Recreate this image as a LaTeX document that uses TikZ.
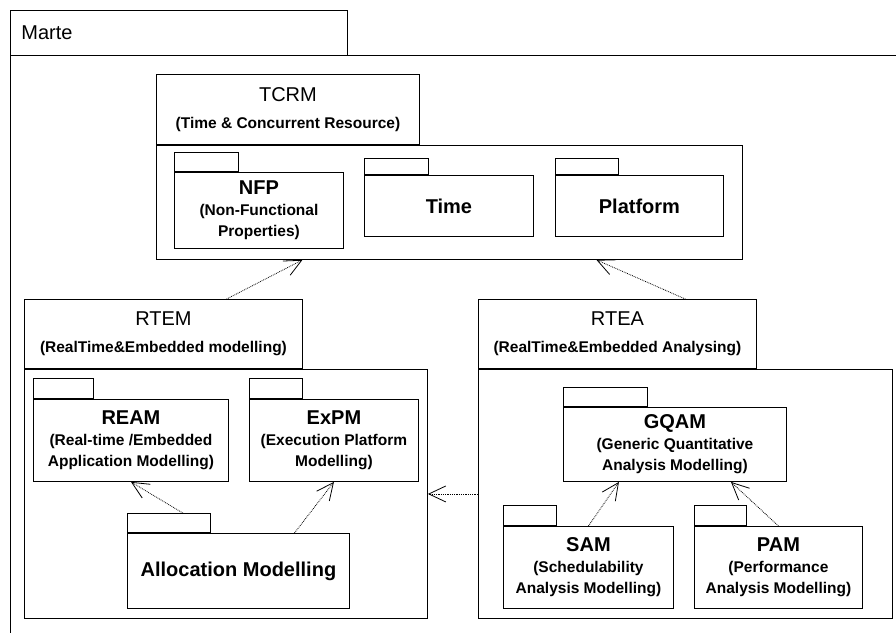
\documentclass[tikz,border=0pt]{standalone}
\usepackage{fontspec}
\setmainfont{Liberation Sans}
\usetikzlibrary{arrows.meta, positioning}

\newcommand{\pkgname}[1]{{\fontsize{20}{24}\selectfont #1}}
\newcommand{\hdrname}[1]{{\fontsize{20}{24}\selectfont\mdseries #1}}

\begin{document}
\begin{tikzpicture}[
    x=1pt, y=-1pt,
    box/.style={draw, line width=0.9pt, inner sep=0pt, align=center, font=\fontsize{15.5}{21}\selectfont\bfseries},
    pkgbody/.style={box, anchor=north west},
    pkgtab/.style={box, above right=0pt and 0pt of #1},
    dep/.style={densely dotted, line width=0.8pt, -{Straight Barb[length=17pt, width=16pt, line width=0.8pt]}}
]
\path[use as bounding box, clip] (0,0) rectangle (896,632);

% outer frame
\node[draw, line width=0.9pt, inner sep=0pt, anchor=north west, minimum width=337pt, minimum height=45pt, text width=315pt, align=left] (marte) at (10,10) {\hdrname{Marte}};
\draw[line width=0.9pt] (marte.south west) rectangle (930,660);

% TCRM
\node[pkgbody, minimum width=586pt, minimum height=114pt] (tcrm) at (156,145) {};
\node[pkgtab=tcrm.north west, minimum width=263pt, minimum height=70pt] (tcrmtab) {\hdrname{TCRM}\\[6pt](Time \& Concurrent Resource)};
\node[pkgbody, minimum width=169pt, minimum height=76pt] (nfp) at (174,172) {\pkgname{NFP}\\(Non-Functional\\Properties)};
\node[pkgtab=nfp.north west, minimum width=64pt, minimum height=19pt] (nfptab) {};
\node[pkgbody, minimum width=169pt, minimum height=61pt] (time) at (364,175) {\pkgname{Time}};
\node[pkgtab=time.north west, minimum width=64pt, minimum height=16pt] (timetab) {};
\node[pkgbody, minimum width=168pt, minimum height=61pt] (platform) at (555,175) {\pkgname{Platform}};
\node[pkgtab=platform.north west, minimum width=63pt, minimum height=16pt] (platformtab) {};

% RTEM
\node[pkgbody, minimum width=403pt, minimum height=249pt] (rtem) at (24,369) {};
\node[pkgtab=rtem.north west, minimum width=278pt, minimum height=69pt] (rtemtab) {\hdrname{RTEM}\\[6pt](RealTime\&Embedded modelling)};
\node[pkgbody, minimum width=195pt, minimum height=82pt] (ream) at (33,399) {\pkgname{REAM}\\(Real-time /Embedded\\Application Modelling)};
\node[pkgtab=ream.north west, minimum width=60pt, minimum height=20pt] (reamtab) {};
\node[pkgbody, minimum width=169pt, minimum height=82pt] (expm) at (249,399) {\pkgname{ExPM}\\(Execution Platform\\Modelling)};
\node[pkgtab=expm.north west, minimum width=53pt, minimum height=20pt] (expmtab) {};
\node[pkgbody, minimum width=222pt, minimum height=75pt] (alloc) at (127,533) {\pkgname{Allocation Modelling}};
\node[pkgtab=alloc.north west, minimum width=83pt, minimum height=19pt] (alloctab) {};

% RTEA
\node[pkgbody, minimum width=414pt, minimum height=249pt] (rtea) at (478,369) {};
\node[pkgtab=rtea.north west, minimum width=278pt, minimum height=69pt] (rteatab) {\hdrname{RTEA}\\[6pt](RealTime\&Embedded Analysing)};
\node[pkgbody, minimum width=223pt, minimum height=74pt] (gqam) at (563,407) {\pkgname{GQAM}\\(Generic Quantitative\\Analysis Modelling)};
\node[pkgtab=gqam.north west, minimum width=84pt, minimum height=19pt] (gqamtab) {};
\node[pkgbody, minimum width=170pt, minimum height=82pt] (sam) at (503,526) {\pkgname{SAM}\\(Schedulability\\Analysis Modelling)};
\node[pkgtab=sam.north west, minimum width=53pt, minimum height=20pt] (samtab) {};
\node[pkgbody, minimum width=168pt, minimum height=82pt] (pam) at (694,526) {\pkgname{PAM}\\(Performance\\Analysis Modelling)};
\node[pkgtab=pam.north west, minimum width=52pt, minimum height=20pt] (pamtab) {};

% dependencies
\draw[dep] ([xshift=63pt]rtemtab.north) -- ([xshift=-147pt]tcrm.south);
\draw[dep] ([xshift=68pt]rteatab.north) -- ([xshift=147pt]tcrm.south);
\draw[dep] (rtea.west) -- (rtem.east);
\draw[dep] ([xshift=14pt]alloctab.north) -- (ream.south);
\draw[dep] ([xshift=56pt]alloc.north) -- (expm.south);
\draw[dep] (sam.north) -- ([xshift=-56pt]gqam.south);
\draw[dep] (pam.north) -- ([xshift=56pt]gqam.south);
\end{tikzpicture}
\end{document}
